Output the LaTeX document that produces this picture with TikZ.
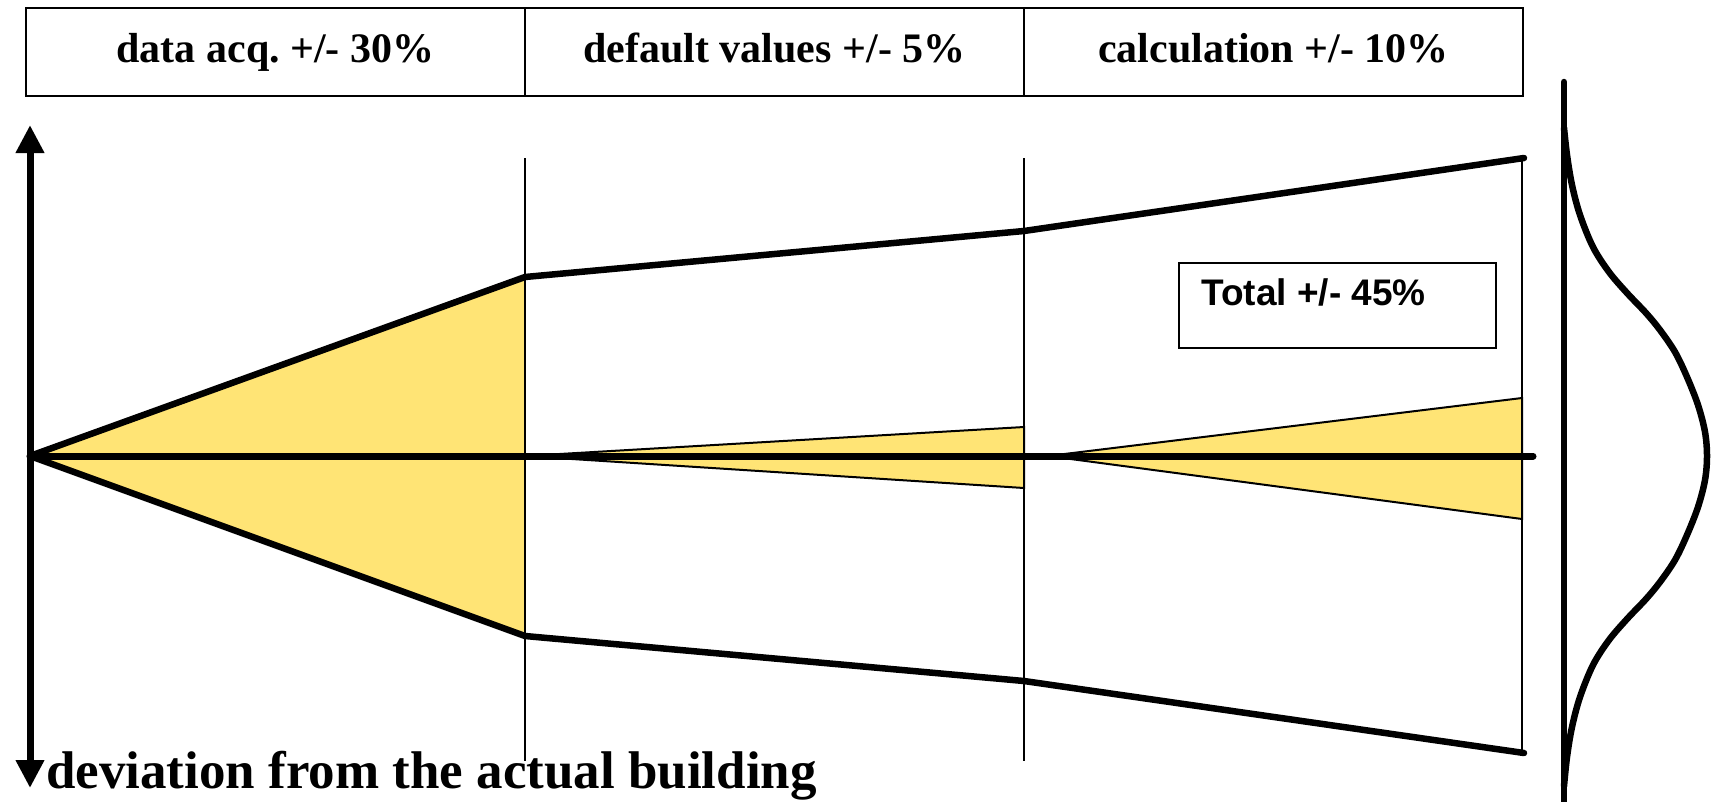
\documentclass[tikz,border=0pt]{standalone}
\usepackage{fontspec}
\setmainfont{Liberation Serif}
\newfontfamily\arialfont{Liberation Sans}
\usetikzlibrary{arrows.meta}
\definecolor{band}{RGB}{255,228,117}
\frenchspacing
\begin{document}
\begin{tikzpicture}[x=1pt,y=-1pt,
  thickline/.style={line width=6.5pt,line cap=round,line join=round},
  centreline/.style={line width=7pt,line cap=round},
  thinline/.style={line width=2pt},
  cellbox/.style={draw,line width=2pt,minimum width=499pt,minimum height=88pt,inner sep=0pt,
    font=\fontsize{42}{48}\selectfont\bfseries,text height=29pt,text depth=9pt},
  wedge/.style={fill=band,draw,line width=2pt,line join=miter},
  axisarrow/.style={line width=7pt,{Triangle[length=28pt,width=27pt]}-{Triangle[length=28pt,width=27pt]}}
]
\useasboundingbox (0,0) rectangle (1711,801);
% header cells
\node[cellbox] (c1) at (275.5,52) {data acq. +/- 30\%};
\node[cellbox] (c2) at (774.5,52) {default values +/- 5\%};
\node[cellbox] (c3) at (1273.5,52) {calculation +/- 10\%};
% key points
\coordinate (o) at (30,456);
\coordinate (u1) at (525,277);
\coordinate (u2) at (1024,231);
\coordinate (u3) at (1524,158);
\coordinate (l1) at (525,636);
\coordinate (l2) at (1024,681);
\coordinate (l3) at (1524,753);
\coordinate (m1) at (525,456);
\coordinate (m3) at (1048,456);
\coordinate (cend) at (1533,456);
% yellow wedges
\fill[band] (o) -- (u1) -- (l1) -- cycle;
\draw[wedge] (m1) -- (1024,427) -- (1024,488) -- cycle;
\draw[wedge] (m3) -- (1522,398) -- (1522,519) -- cycle;
% vertical thin lines
\coordinate (v1t) at (525,158); \coordinate (v1b) at (525,761);
\coordinate (v2t) at (1024,158); \coordinate (v2b) at (1024,761);
\coordinate (v3t) at (1522,158); \coordinate (v3b) at (1522,753);
\draw[thinline] (v1t) -- (v1b);
\draw[thinline] (v2t) -- (v2b);
\draw[thinline] (v3t) -- (v3b);
% envelopes
\draw[thickline] (o) -- (u1) -- (u2) -- (u3);
\draw[thickline] (o) -- (l1) -- (l2) -- (l3);
% centre line
\draw[centreline] (o) -- (cend);
% axis arrow
\coordinate (at) at (30,125);
\coordinate (ab) at (30,788);
\draw[axisarrow] (ab) -- (at);
% total box
\node[draw,line width=2pt,minimum width=317pt,minimum height=85pt,inner sep=0pt] (total) at (1337.5,305.5) {};
\node[anchor=base west,inner sep=0pt,font=\arialfont\bfseries\fontsize{37}{40}\selectfont] (totaltxt) at (1201,305) {Total +/- 45\%};
% bottom label
\node[anchor=base west,inner sep=0pt,font=\fontsize{53}{60}\selectfont\bfseries] (dev) at (46,788) {deviation from the actual building};
% distribution axis and bell curve
\coordinate (dt) at (1564,82);
\coordinate (db) at (1564,805);
\draw[line width=6.5pt,line cap=round] (dt) -- (db);
\draw[line width=6.5pt,line cap=round] plot[smooth,tension=0.55] coordinates {
 (1564,128) (1567,155) (1572,185) (1580,215) (1593,247) (1609,272) (1627,293) (1646,313) (1660,330)
 (1675,352) (1687,377) (1698,405) (1705,432) (1707,456)
 (1705,480) (1698,507) (1687,535) (1675,560) (1660,582) (1646,599) (1627,619) (1609,640)
 (1593,665) (1580,697) (1572,727) (1567,757) (1564,786)};
\end{tikzpicture}
\end{document}
